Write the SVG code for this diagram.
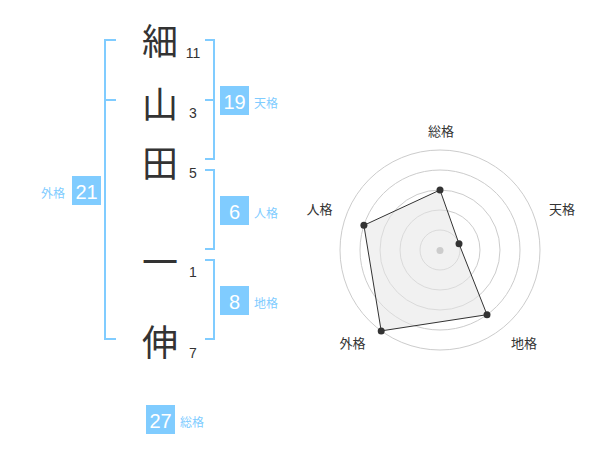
<svg xmlns="http://www.w3.org/2000/svg" width="600" height="470" viewBox="0 0 600 470">
<style>
.ch{font-family:"Noto Sans CJK JP","Noto Sans CJK SC",sans-serif;font-size:36px;fill:#333;text-anchor:middle;dominant-baseline:central}
.num{font-family:"Liberation Sans",Arial,sans-serif;font-size:14px;fill:#333;text-anchor:middle}
.box{fill:#80ccff}
.bn{font-family:"Liberation Sans",Arial,sans-serif;font-size:20px;fill:#fff;text-anchor:middle}
.lb{font-family:"Noto Sans CJK JP","Noto Sans CJK SC",sans-serif;font-size:12px;fill:#80ccff}
.br{fill:none;stroke:#80ccff;stroke-width:2}
.ring{fill:none;stroke:#cccccc;stroke-width:1}
.rl{font-family:"Noto Sans CJK JP","Noto Sans CJK SC",sans-serif;font-size:13px;fill:#333;text-anchor:middle;dominant-baseline:central}
.pt{fill:#333}
</style>
<rect width="600" height="470" fill="#fff"/>
<g id="connectors">
<path class="br" d="M116,40 H105 V339 H116 M105,100 H116"/>
<path class="br" d="M205,40 H214 V159 H205 M205,100 H214"/>
<path class="br" d="M205,170 H214 V249 H205"/>
<path class="br" d="M205,260 H214 V339 H205"/>
</g>
<g id="name">
<g id="char1"><text class="ch" x="160" y="39">細</text><text class="num" x="193" y="58">11</text></g>
<g id="char2"><text class="ch" x="160" y="102">山</text><text class="num" x="193" y="118">3</text></g>
<g id="char3"><text class="ch" x="160" y="161">田</text><text class="num" x="193" y="178">5</text></g>
<g id="char4"><text class="ch" x="160" y="260">一</text><text class="num" x="193" y="277">1</text></g>
<g id="char5"><text class="ch" x="160" y="340">伸</text><text class="num" x="193" y="358">7</text></g>
</g>
<g id="tenkaku"><rect class="box" x="220" y="86" width="29" height="29"/><text class="bn" x="234.5" y="109">19</text><text class="lb" x="254" y="108">天格</text></g>
<g id="jinkaku"><rect class="box" x="220" y="196" width="29" height="29"/><text class="bn" x="234.5" y="219">6</text><text class="lb" x="254" y="218">人格</text></g>
<g id="chikaku"><rect class="box" x="220" y="286" width="29" height="29"/><text class="bn" x="234.5" y="309">8</text><text class="lb" x="254" y="308">地格</text></g>
<g id="gaikaku"><rect class="box" x="72" y="176" width="29" height="29"/><text class="bn" x="86.5" y="199">21</text><text class="lb" x="41" y="198">外格</text></g>
<g id="soukaku"><rect class="box" x="146" y="405" width="29" height="29"/><text class="bn" x="160.5" y="428">27</text><text class="lb" x="180" y="427">総格</text></g>
<g id="radar">
<circle class="ring" cx="440" cy="250" r="20"/>
<circle class="ring" cx="440" cy="250" r="40"/>
<circle class="ring" cx="440" cy="250" r="60"/>
<circle class="ring" cx="440" cy="250" r="80"/>
<circle class="ring" cx="440" cy="250" r="100"/>
<polygon points="440,190 459,243.8 487,314.7 381.2,330.9 363.9,225.3" fill="#e6e6e6" fill-opacity="0.55" stroke="#333" stroke-width="1"/>
<circle cx="440" cy="250.5" r="3.5" fill="#cccccc"/>
<circle class="pt" cx="440" cy="190" r="3.5"/>
<circle class="pt" cx="459" cy="243.8" r="3.5"/>
<circle class="pt" cx="487" cy="314.7" r="3.5"/>
<circle class="pt" cx="381.2" cy="330.9" r="3.5"/>
<circle class="pt" cx="363.9" cy="225.3" r="3.5"/>
<text class="rl" x="441" y="130.5">総格</text>
<text class="rl" x="562" y="208.5">天格</text>
<text class="rl" x="524" y="342">地格</text>
<text class="rl" x="352.5" y="342">外格</text>
<text class="rl" x="319.5" y="208.5">人格</text>
</g>
</svg>
